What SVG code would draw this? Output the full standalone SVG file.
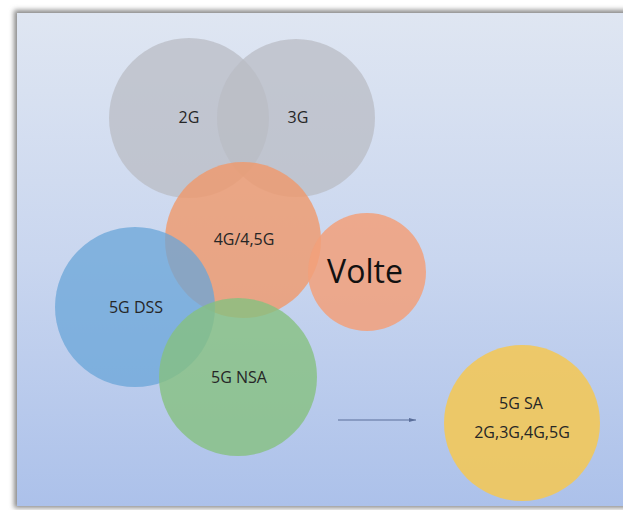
<svg xmlns="http://www.w3.org/2000/svg" width="623" height="510" viewBox="0 0 623 510">
<defs>
<linearGradient id="bg" x1="0" y1="0" x2="0" y2="1">
<stop offset="0" stop-color="#dfe6f2"/>
<stop offset="0.5" stop-color="#c9d6ef"/>
<stop offset="1" stop-color="#acc1ea"/>
</linearGradient>
<filter id="blur" x="-5%" y="-5%" width="110%" height="110%"><feGaussianBlur stdDeviation="2.5"/></filter>
<marker id="arr" markerWidth="8" markerHeight="6" refX="7" refY="3" orient="auto" markerUnits="userSpaceOnUse">
<path d="M0,1 L7,3 L0,5 z" fill="#5a6e9a"/>
</marker>
</defs>
<style>
.lbl{font-family:"Open Sans","Liberation Sans",sans-serif;font-size:16px;fill:#262626;text-anchor:middle}
.big{font-family:"Open Sans","Liberation Sans",sans-serif;font-size:32px;fill:#111;text-anchor:middle}
</style>
<rect width="623" height="510" fill="#ffffff"/>
<rect x="14" y="10" width="615" height="498" fill="#8a8a8a" filter="url(#blur)"/>
<rect x="17" y="13" width="606" height="493" fill="url(#bg)"/>
<g id="node-2g"><circle cx="189" cy="118" r="80" fill="#b9bcc4" fill-opacity="0.75"/><text class="lbl" x="189" y="123">2G</text></g>
<g id="node-3g"><circle cx="296" cy="118" r="79" fill="#b9bcc4" fill-opacity="0.75"/><text class="lbl" x="298" y="123">3G</text></g>
<g id="node-4g"><circle cx="243" cy="240" r="78" fill="#f0996a" fill-opacity="0.8"/><text class="lbl" x="244" y="245">4G/4,5G</text></g>
<g id="node-volte"><circle cx="367" cy="272" r="59" fill="#f2a07a" fill-opacity="0.85"/><text class="big" x="365" y="283">Volte</text></g>
<g id="node-dss"><circle cx="135" cy="307" r="80" fill="#6aa6d8" fill-opacity="0.75"/><text class="lbl" x="136" y="313">5G DSS</text></g>
<g id="node-nsa"><circle cx="238" cy="377" r="79" fill="#86c07f" fill-opacity="0.8"/><text class="lbl" x="239" y="383">5G NSA</text></g>
<g id="node-sa"><circle cx="522" cy="423" r="78" fill="#f2c85a" fill-opacity="0.9"/><text class="lbl" x="521" y="409">5G SA</text><text class="lbl" x="522" y="438">2G,3G,4G,5G</text></g>
<g id="connectors"><line x1="338" y1="420" x2="416" y2="420" stroke="#5a6e9a" stroke-width="1.2" marker-end="url(#arr)"/></g>
</svg>
